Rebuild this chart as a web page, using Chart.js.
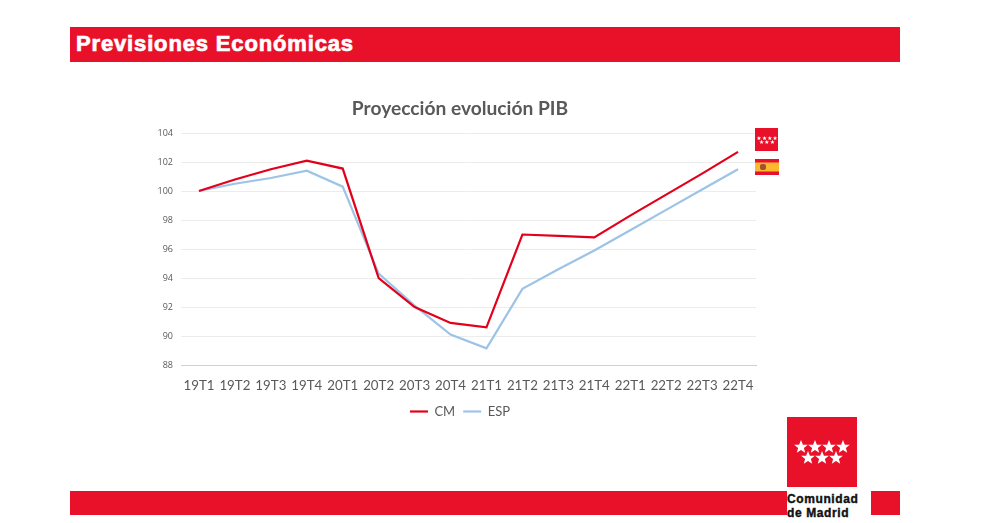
<!DOCTYPE html>
<html lang="es">
<head>
<meta charset="utf-8">
<title>Previsiones Económicas</title>
<script src="https://cdn.jsdelivr.net/npm/chart.js@4/dist/chart.umd.min.js"></script>
<style>
    html, body { margin: 0; padding: 0; background: #fff; overflow: hidden; }
    body { position: relative; width: 983px; height: 523px; }
    .block { position: absolute; background: #e9112a; }
    #header { left: 70px; top: 27px; width: 830px; height: 35px; }
    #header span {
        position: absolute; left: 6px; top: 4px;
        font: bold 22px "Liberation Sans", sans-serif; letter-spacing: 0.85px;
        -webkit-text-stroke: 0.7px #fff;
        color: #fff; white-space: nowrap;
    }
    #footerLeft { left: 70px; top: 491px; width: 717px; height: 24px; }
    #footerRight { left: 871px; top: 491px; width: 29px; height: 24px; }
    #logo { position: absolute; left: 787px; top: 417px; width: 70px; height: 70px; }
    #logoText {
        position: absolute; left: 787px; top: 493px; width: 72px;
        font: bold 12px/13.5px "Liberation Sans", sans-serif; letter-spacing: 0.6px;
        -webkit-text-stroke: 0.4px #111;
        color: #111; white-space: nowrap;
    }
    #flagCm { position: absolute; left: 755px; top: 128px; width: 23px; height: 23px; }
    #flagEsp { position: absolute; left: 755px; top: 159px; width: 24px; height: 16px; }
    #chartBox { position: absolute; left: 140px; top: 90px; width: 640px; height: 338px; }
</style>
</head>
<body>
<div id="header" class="block"><span>Previsiones Económicas</span></div>

<div id="chartBox"><canvas id="pibChart"></canvas></div>

<svg id="flagCm" viewBox="0 0 70 70">
    <defs><polygon id="star" points="0,-7 1.9,-2.2 6.8,-2.2 2.9,0.9 4.2,5.7 0,3 -4.2,5.7 -2.9,0.9 -6.8,-2.2 -1.9,-2.2"/></defs>
    <rect width="70" height="70" fill="#e9112a"/>
    <g fill="#fff">
        <use href="#star" x="12" y="31"/><use href="#star" x="29" y="31"/><use href="#star" x="45" y="31"/><use href="#star" x="61" y="31"/>
        <use href="#star" x="20" y="43"/><use href="#star" x="36" y="43"/><use href="#star" x="53" y="43"/>
    </g>
</svg>
<svg id="flagEsp" viewBox="0 0 24 16">
    <rect width="24" height="16" fill="#e8112d"/>
    <rect y="3.5" width="24" height="9" fill="#fdb92d"/>
    <rect x="5" y="5" width="6" height="6" rx="2" fill="#a0522d"/>
</svg>

<div id="footerLeft" class="block"></div>
<svg id="logo" viewBox="0 0 70 70">
    <rect width="70" height="70" fill="#e9112a"/>
    <g fill="#fff">
        <use href="#star" x="14" y="30"/><use href="#star" x="28" y="30"/><use href="#star" x="42" y="30"/><use href="#star" x="56" y="30"/>
        <use href="#star" x="21" y="41"/><use href="#star" x="35" y="41"/><use href="#star" x="49" y="41"/>
    </g>
</svg>
<div id="logoText">Comunidad<br>de Madrid</div>
<div id="footerRight" class="block"></div>

<script>
const quarters = ['19T1', '19T2', '19T3', '19T4', '20T1', '20T2', '20T3', '20T4',
                  '21T1', '21T2', '21T3', '21T4', '22T1', '22T2', '22T3', '22T4'];
const cmValues = [100, 100.8, 101.5, 102.1, 101.55, 94.0, 92.0, 90.9,
                  90.6, 97.0, 96.9, 96.8, 98.3, 99.75, 101.2, 102.7];
const espValues = [100, 100.5, 100.9, 101.4, 100.3, 94.3, 92.1, 90.1,
                   89.15, 93.25, 94.6, 95.9, 97.3, 98.7, 100.1, 101.5];

const lineDefaults = { borderWidth: 2.2, tension: 0, pointRadius: 0, pointStyle: 'line', fill: false };

new Chart(document.getElementById('pibChart'), {
    type: 'line',
    data: {
        labels: quarters,
        datasets: [
            { label: 'CM', data: cmValues, borderColor: '#e2001a', backgroundColor: '#e2001a', ...lineDefaults },
            { label: 'ESP', data: espValues, borderColor: '#9dc3e6', backgroundColor: '#9dc3e6', ...lineDefaults }
        ]
    },
    options: {
        responsive: true,
        maintainAspectRatio: false,
        animation: false,
        plugins: {
            title: {
                display: true,
                text: 'Proyección evolución PIB',
                color: '#595959',
                font: { family: 'Lato', size: 19.2, weight: 'bold' },
                padding: { top: 7.5, bottom: 12.5 }
            },
            legend: {
                position: 'bottom',
                labels: {
                    usePointStyle: true,
                    pointStyle: 'line',
                    pointStyleWidth: 18,
                    color: '#595959',
                    font: { family: 'Lato', size: 13 },
                    padding: 8
                }
            },
            tooltip: { enabled: false }
        },
        scales: {
            x: {
                offset: true,
                grid: { display: false },
                border: { color: '#d0d0d0' },
                ticks: {
                    color: '#595959',
                    font: { family: 'Lato', size: 13.3 },
                    maxRotation: 0,
                    autoSkip: false,
                    padding: 5
                },
                // leaves room on the right for the flags without moving title and legend
                afterFit(axis) { axis.height = 32; axis.paddingRight = 24; }
            },
            y: {
                min: 88,
                max: 104,
                grid: { color: '#ececec', drawTicks: false },
                border: { display: false },
                ticks: {
                    stepSize: 2,
                    color: '#595959',
                    font: { family: 'Open Sans', size: 9 },
                    padding: 8
                },
                afterFit(axis) { axis.width = 41; }
            }
        }
    }
});
</script>
</body>
</html>
